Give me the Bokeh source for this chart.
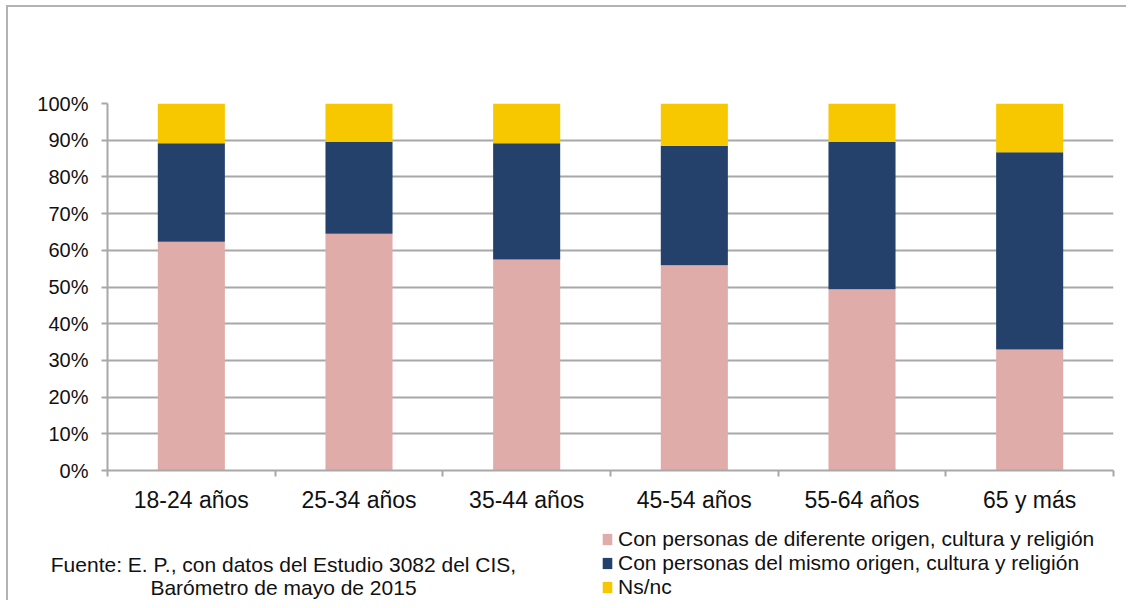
from bokeh.plotting import figure
from bokeh.layouts import column
from bokeh.models import (Range1d, FixedTicker, Legend, LegendItem, Label,
                          ColumnDataSource, PrintfTickFormatter)
from bokeh.embed import file_html
from bokeh.resources import INLINE

# ---- data ----
categories = ["18-24 años", "25-34 años", "35-44 años", "45-54 años", "55-64 años", "65 y más"]
diferente = [62.3, 64.5, 57.5, 55.9, 49.4, 33.0]
mismo = [26.9, 25.0, 31.7, 32.6, 40.1, 53.7]
nsnc = [10.8, 10.5, 10.8, 11.5, 10.5, 13.3]
series_names = [
    "Con personas de diferente origen, cultura y religión",
    "Con personas del mismo origen, cultura y religión",
    "Ns/nc",
]
y_ticks = [0, 10, 20, 30, 40, 50, 60, 70, 80, 90, 100]
source_lines = [
    "Fuente: E. P., con datos del Estudio 3082 del CIS,",
    "Barómetro de mayo de 2015",
]

colors = ["#E0ACAA", "#23416A", "#F7C800"]
FONT = "Liberation Sans"
GRID = "#a8a8a8"
TEXT = "#111111"
W = 1126

xs = [i + 0.5 for i in range(len(categories))]
src = ColumnDataSource(dict(x=xs, dif=diferente, mis=mismo, ns=nsnc))

# ---------------- chart ----------------
p = figure(width=W, height=520,
           x_range=Range1d(0, len(categories)), y_range=Range1d(0, 100),
           output_backend="svg", toolbar_location=None,
           min_border_left=107, min_border_right=13,
           min_border_top=103, min_border_bottom=50)
p.outline_line_color = None
p.background_fill_color = "white"
p.border_fill_color = None

renderers = p.vbar_stack(["dif", "mis", "ns"], x="x", width=0.4, source=src,
                         fill_color=colors, line_color=None)

xa = p.xaxis[0]
xa.ticker = FixedTicker(ticks=xs, minor_ticks=list(range(len(categories) + 1)))
xa.major_label_overrides = {x: c for x, c in zip(xs, categories)}
xa.major_tick_line_color = None
xa.minor_tick_line_color = GRID
xa.minor_tick_line_width = 2
xa.minor_tick_in = 0
xa.minor_tick_out = 6
xa.axis_line_color = GRID
xa.axis_line_width = 2
xa.major_label_text_font = FONT
xa.major_label_text_font_size = "23px"
xa.major_label_text_color = TEXT
xa.major_label_standoff = 10
p.xgrid.visible = False

ya = p.yaxis[0]
ya.ticker = FixedTicker(ticks=y_ticks, minor_ticks=[])
ya.formatter = PrintfTickFormatter(format="%d%%")
ya.major_tick_line_color = GRID
ya.major_tick_line_width = 2
ya.major_tick_in = 0
ya.major_tick_out = 6
ya.minor_tick_line_color = None
ya.axis_line_color = GRID
ya.axis_line_width = 2
ya.major_label_text_font = FONT
ya.major_label_text_font_size = "20px"
ya.major_label_text_color = TEXT
ya.major_label_standoff = 13
p.ygrid.ticker = FixedTicker(ticks=y_ticks)
p.ygrid.grid_line_color = GRID
p.ygrid.grid_line_width = 2

# ---------------- footer: source note + legend ----------------
H2 = 80
p2 = figure(width=W, height=H2, x_range=Range1d(0, W), y_range=Range1d(0, H2),
            output_backend="svg", toolbar_location=None,
            x_axis_location=None, y_axis_location=None, min_border=0)
p2.outline_line_color = None
p2.background_fill_color = None
p2.border_fill_color = None
p2.grid.visible = False

for fig in (p, p2):
    if hasattr(fig, "frame_align"):
        fig.frame_align = False

for i, line in enumerate(source_lines):
    p2.add_layout(Label(x=283, y=36 - 23 * i, text=line, text_align="center",
                        text_baseline="middle", text_font=FONT,
                        text_font_size="21px", text_color=TEXT))

# legend keys: zero-size bars carrying the series colours
keys = []
for c in colors:
    keys.append(p2.vbar(x=[0], top=[0], bottom=[0], width=0,
                        fill_color=c, line_color=None))
items = [LegendItem(label=n, renderers=[r]) for n, r in zip(series_names, keys)]
legend = Legend(items=items, location=(601, 1), orientation="vertical",
                glyph_width=12, glyph_height=14, label_standoff=5, spacing=0,
                padding=0, margin=0, border_line_color=None,
                background_fill_alpha=0, label_height=24,
                label_text_font=FONT, label_text_font_size="21px",
                label_text_color=TEXT)
p2.add_layout(legend, "center")

layout = column(p, p2, spacing=0)
layout.styles = {
    "background-image": "linear-gradient(#b3b3b3, #b3b3b3), linear-gradient(#b3b3b3, #b3b3b3)",
    "background-size": "2px 100%, 100% 2px",
    "background-position": "6px 5px, 6px 5px",
    "background-repeat": "no-repeat",
}

open("out.html", "w").write(file_html(layout, INLINE))
